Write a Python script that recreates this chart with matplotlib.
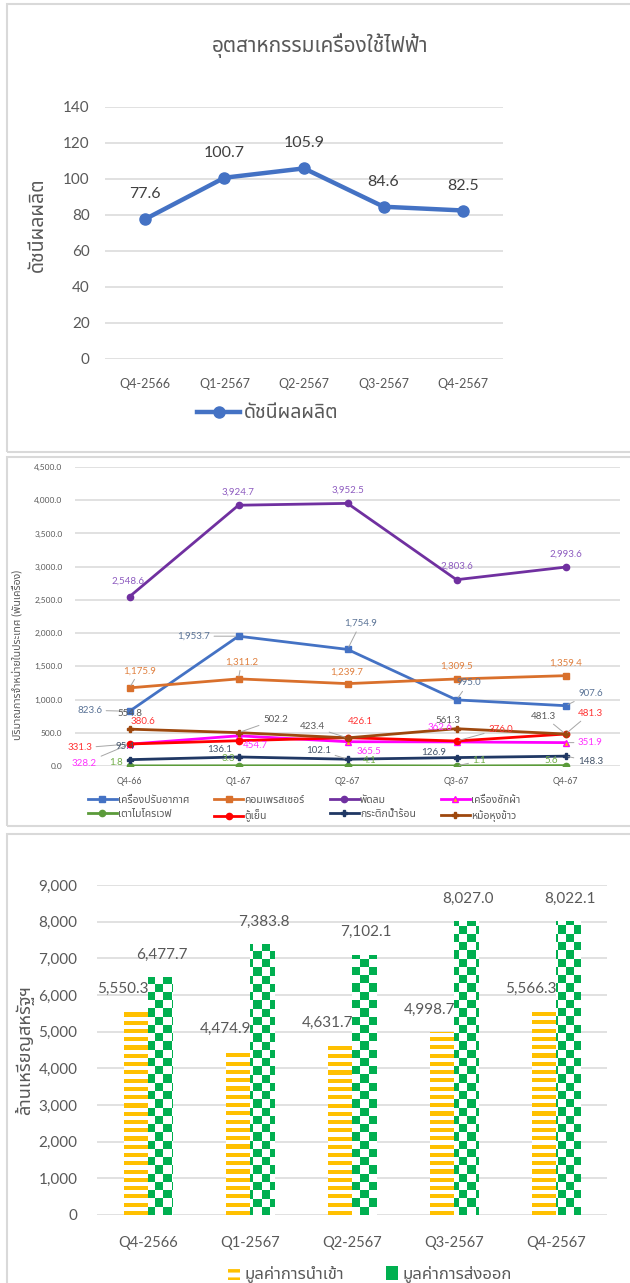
import matplotlib
matplotlib.use("Agg")
import numpy as np
import matplotlib.pyplot as plt
from matplotlib.patches import Rectangle, Patch
from matplotlib.lines import Line2D

FONT = ['Lato', 'Noto Sans Thai', 'IBM Plex Sans Thai', 'DejaVu Sans']
plt.rcParams['font.family'] = FONT
plt.rcParams['hatch.linewidth'] = 2.5

# ---------------- data ----------------
# panel 1: production index
quarters_long = ['Q4-2566', 'Q1-2567', 'Q2-2567', 'Q3-2567', 'Q4-2567']
index_values = [77.6, 100.7, 105.9, 84.6, 82.5]
title1 = 'อุตสาหกรรมเครื่องใช้ไฟฟ้า'
index_name = 'ดัชนีผลผลิต'

# panel 2: domestic sales (thousand units)
quarters_short = ['Q4-66', 'Q1-67', 'Q2-67', 'Q3-67', 'Q4-67']
aircon = [823.6, 1953.7, 1754.9, 995.0, 907.6]
compressor = [1175.9, 1311.2, 1239.7, 1309.5, 1359.4]
fan = [2548.6, 3924.7, 3952.5, 2803.6, 2993.6]
washer = [328.2, 454.7, 365.5, 362.6, 351.9]
microwave = [1.8, 3.3, 4.1, 1.1, 5.6]
fridge = [331.3, 380.6, 426.1, 376.0, 481.3]
kettle = [95.4, 136.1, 102.1, 126.9, 148.3]
ricecooker = [554.8, 502.2, 423.4, 561.3, 481.3]
series_names = ['เครื่องปรับอากาศ', 'คอมเพรสเซอร์', 'พัดลม', 'เครื่องซักผ้า',
                'เตาไมโครเวฟ', 'ตู้เย็น', 'กระติกน้ำร้อน', 'หม้อหุงข้าว']
ylabel2 = 'ปริมาณการจำหน่ายในประเทศ (พันเครื่อง)'

# panel 3: trade value (million USD)
imports = [5550.3, 4474.9, 4631.7, 4998.7, 5566.3]
exports = [6477.7, 7383.8, 7102.1, 8027.0, 8022.1]
import_name = 'มูลค่าการนำเข้า'
export_name = 'มูลค่าการส่งออก'
ylabel3 = 'ล้านเหรียญสหรัฐฯ'

# ---------------- figure ----------------
W, H = 630, 1283
fig = plt.figure(figsize=(W / 100, H / 100), dpi=100)
GRID = '#D9D9D9'
TXT = '#595959'


def fx(px):
    return px / W


def fy(py):
    return 1 - py / H


# panel frames
for top, bot in [(4, 452), (457, 826), (834, 1300)]:
    fig.add_artist(Rectangle((fx(7), fy(bot)), 1.0, fy(top) - fy(bot),
                             transform=fig.transFigure, fill=False,
                             edgecolor=GRID, lw=1.5))


def style_axes(ax, ylabsize, xlabsize, ypad, xpad):
    for s in ax.spines.values():
        s.set_visible(False)
    ax.grid(axis='y', color=GRID, lw=1.1)
    ax.set_axisbelow(True)
    ax.tick_params(length=0, colors=TXT)
    ax.tick_params(axis='y', labelsize=ylabsize, pad=ypad)
    ax.tick_params(axis='x', labelsize=xlabsize, pad=xpad)


# ---------- panel 1 ----------
ax1 = fig.add_axes([fx(105), fy(359), fx(503) - fx(105), fy(107) - fy(359)])
x1 = np.arange(len(quarters_long))
ax1.plot(x1, index_values, color='#4472C4', lw=3.2, marker='o', ms=8,
         solid_capstyle='round', label=index_name)
for xi, v in zip(x1, index_values):
    ax1.annotate(f'{v:.1f}', (xi, v), xytext=(0, 18), textcoords='offset points',
                 ha='center', va='center', fontsize=11.5, color='#404040')
ax1.set_xlim(-0.5, 4.5)
ax1.set_ylim(0, 140)
ax1.set_yticks(np.arange(0, 141, 20))
ax1.set_xticks(x1, quarters_long)
style_axes(ax1, 11, 9, 11, 14)
fig.text(fx(320), fy(45), title1, ha='center', va='center', fontsize=15, color=TXT)
fig.text(fx(37), fy(225), index_name, ha='center', va='center', rotation=90,
         fontsize=14, color=TXT)
leg1 = fig.legend(handles=[Line2D([], [], color='#4472C4', lw=3.2, marker='o', ms=8)],
                  labels=[index_name], loc='center', bbox_to_anchor=(fx(268), fy(413)),
                  frameon=False, fontsize=14, handlelength=2.2, handletextpad=0.2)
for t in leg1.get_texts():
    t.set_color(TXT)

# ---------- panel 2 ----------
ax2 = fig.add_axes([fx(75), fy(766), fx(620) - fx(75), fy(467) - fy(766)])
x2 = np.arange(len(quarters_short))
all_series = [aircon, compressor, fan, washer, microwave, fridge, kettle, ricecooker]
line_colors = ['#4472C4', '#D9702C', '#7030A0', '#FF00FF', '#5B9B3A', '#FF0000',
               '#203864', '#9E480E']
label_colors = ['#5A7396', '#E0803F', '#8E5CC0', '#FF33FF', '#70AD47', '#FF3333',
                '#44546A', '#595959']
markers = ['s', 's', 'o', '^', 'o', 'o', 'P', 'P']
mfc = [None, None, None, '#FFC000', None, None, None, None]
# label offsets in pixels (dx, dy; dy positive = downward) and leader flags
offsets = [
    [(-40, -1, 1), (-45, 0, 1), (13, -26, 1), (12, -17, 1), (25, -12, 1)],
    [(10, -17, 1), (3, -17, 1), (-1, -11, 0), (0, -13, 0), (0, -12, 0)],
    [(-2, -15, 0), (0, -13, 0), (0, -13, 0), (0, -14, 0), (0, -13, 0)],
    [(-45, 19, 1), (17, 10, 0), (21, 10, 0), (-16, -14, 0), (25, 0, 1)],
    [(-13, -3, 0), (-10, -7, 0), (22, -5, 0), (23, -5, 1), (-14, -5, 0)],
    [(-50, 4, 1), (-96, -19, 0), (13, -16, 0), (44, -12, 1), (25, -21, 1)],
    [(-4, -13, 0), (-19, -7, 0), (-29, -9, 1), (-23, -5, 0), (25, 5, 1)],
    [(0, -16, 0), (37, -13, 1), (-35, -11, 1), (-9, -8, 0), (-22, -18, 1)],
]
handles = []
for i, vals in enumerate(all_series):
    h, = ax2.plot(x2, vals, color=line_colors[i], lw=2.0, marker=markers[i], ms=4.5,
                  markerfacecolor=mfc[i] if mfc[i] else line_colors[i],
                  markeredgecolor=line_colors[i], label=series_names[i])
    handles.append(h)
    for j, v in enumerate(vals):
        dx, dy, lead = offsets[i][j]
        kw = {}
        if lead:
            kw['arrowprops'] = dict(arrowstyle='-', color='#A6A6A6', lw=0.7,
                                    shrinkA=1, shrinkB=2)
        ax2.annotate(f'{v:,.1f}', (j, v), xytext=(dx * 0.72, -dy * 0.72),
                     textcoords='offset points', ha='center', va='center',
                     fontsize=7, color=label_colors[i], **kw)
ax2.set_xlim(-0.5, 4.5)
ax2.set_ylim(0, 4500)
ax2.set_yticks(np.arange(0, 4501, 500))
ax2.yaxis.set_major_formatter(matplotlib.ticker.FuncFormatter(lambda v, p: f'{v:,.1f}'))
ax2.set_xticks(x2, quarters_short)
style_axes(ax2, 6, 6.3, 9, 8)
fig.text(fx(17), fy(655), ylabel2, ha='center', va='center', rotation=90,
         fontsize=7.6, color=TXT)
order = [0, 4, 1, 5, 2, 6, 3, 7]
leg2 = fig.legend([handles[k] for k in order], [series_names[k] for k in order],
                  loc='center', bbox_to_anchor=(fx(304), fy(809)), ncol=4,
                  frameon=False, fontsize=7.5, handlelength=2.8, handletextpad=0.1,
                  columnspacing=2.4, labelspacing=0.45)
for t in leg2.get_texts():
    t.set_color(TXT)

# ---------- panel 3 ----------
ax3 = fig.add_axes([fx(97), fy(1215), fx(607) - fx(97), fy(885) - fy(1215)])
x3 = np.arange(len(quarters_long))
bw = 0.24
bars_i = ax3.bar(x3 - bw / 2, imports, width=bw, facecolor='none', edgecolor='none')
bars_e = ax3.bar(x3 + bw / 2, exports, width=bw, facecolor='none', edgecolor='none')
ax3.set_xlim(-0.5, 4.5)
ax3.set_ylim(0, 9000)
# global pattern grids (Excel-like fills), clipped to each bar
stripe_rows = 80
stripes = np.zeros((stripe_rows, 1, 3))
for r in range(stripe_rows):
    stripes[r, 0] = (1.0, 0.753, 0.0) if r % 2 == 0 else (1, 1, 1)
check_rows, check_cols = 40, 62
check = np.ones((check_rows, check_cols, 3))
for r in range(check_rows):
    for c in range(check_cols):
        if (r + c) % 2 == 0:
            check[r, c] = (0.0, 0.69, 0.314)
for b in bars_i:
    im = ax3.imshow(stripes, extent=(-0.5, 4.5, 0, 9000), aspect='auto',
                    interpolation='nearest', origin='lower', zorder=2)
    im.set_clip_path(b)
for b in bars_e:
    im = ax3.imshow(check, extent=(-0.5, 4.5, 0, 9000), aspect='auto',
                    interpolation='nearest', origin='lower', zorder=2)
    im.set_clip_path(b)
ax3.set_xlim(-0.5, 4.5)
ax3.set_ylim(0, 9000)
for xi, v in zip(x3, imports):
    ax3.annotate(f'{v:,.1f}', (xi - bw / 2, v), xytext=(-9, 16), textcoords='offset points',
                 ha='center', va='center', fontsize=11, color=TXT)
for xi, v in zip(x3, exports):
    ax3.annotate(f'{v:,.1f}', (xi + bw / 2, v), xytext=(1, 16), textcoords='offset points',
                 ha='center', va='center', fontsize=11, color=TXT)
ax3.set_yticks(np.arange(0, 9001, 1000))
ax3.yaxis.set_major_formatter(matplotlib.ticker.FuncFormatter(lambda v, p: f'{v:,.0f}'))
ax3.set_xticks(x3, quarters_long)
style_axes(ax3, 11, 10.5, 14, 15)
fig.text(fx(25), fy(1050), ylabel3, ha='center', va='center', rotation=90,
         fontsize=13, color=TXT)
leg3 = fig.legend(handles=[Patch(facecolor='white', edgecolor='#FFC000', hatch='--', lw=0),
                           Patch(facecolor='#00B050', edgecolor='white', lw=0)],
                  labels=[import_name, export_name], loc='center',
                  bbox_to_anchor=(fx(370), fy(1274)), ncol=2, frameon=False,
                  fontsize=12, handlelength=0.7, handleheight=0.9, handletextpad=0.3,
                  columnspacing=2.5)
for t in leg3.get_texts():
    t.set_color(TXT)

fig.savefig('out.png', dpi=100)
